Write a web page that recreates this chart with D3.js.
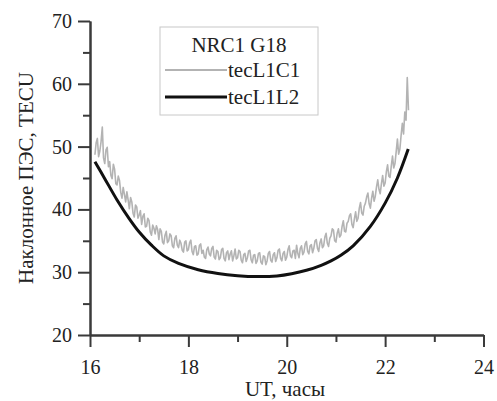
<!DOCTYPE html>
<html>
<head>
<meta charset="utf-8">
<script src="https://cdn.jsdelivr.net/npm/d3@7"></script>
<style>
  body { margin: 0; background: #fff; }
  svg text { font-family: "Liberation Serif", "DejaVu Serif", serif; fill: #222; }
</style>
</head>
<body>
<div id="chart"></div>
<script>
// данные
var seriesNames = ["tecL1C1", "tecL1L2"];
var legendTitle = "NRC1 G18";
var xTicks = [16, 18, 20, 22, 24];
var xMinor = [17, 19, 21, 23];
var yTicks = [20, 30, 40, 50, 60, 70];
var yMinor = [25, 35, 45, 55, 65];

// tecL1C1: отсчёты каждые 0.025 ч начиная с 16.10 UT
var c1Start = 16.10, c1Step = 0.025;
var tecL1C1 = [
  48.7, 50.6, 51.3, 48.4, 49.3, 50.8, 53.1, 48.2, 47.3, 49.5,
  49.9, 46.8, 47.6, 45.4, 44.9, 47.2, 46.4, 44.1, 43.9, 45.3,
  44.6, 42.7, 41.8, 43.5, 42.4, 41.2, 42.8, 41.5, 40.1, 41.9,
  41.2, 39.4, 38.8, 40.7, 40.4, 38.6, 39.1, 39.8, 37.6, 38.9,
  39.3, 37.2, 37.3, 38.6, 38.2, 36.4, 35.9, 37.5, 37.0, 36.1,
  37.4, 36.8, 35.2, 36.9, 36.5, 34.8, 34.5, 35.9, 36.5, 34.7,
  35.0, 36.1, 35.8, 34.2, 33.9, 35.4, 35.8, 34.3, 33.9, 35.1,
  34.6, 33.5, 33.2, 34.8, 35.0, 33.4, 33.6, 34.7, 35.1, 33.3,
  32.8, 34.1, 34.2, 32.7, 32.9, 34.3, 34.5, 33.0, 33.5, 32.4,
  32.2, 33.6, 34.0, 32.9, 32.6, 33.8, 34.1, 32.4, 32.1, 33.5,
  33.3, 32.0, 32.3, 33.6, 33.8, 32.2, 31.8, 33.1, 33.4, 32.0,
  32.9, 33.4, 31.8, 32.6, 33.7, 32.1, 32.3, 33.5, 33.3, 31.9,
  31.5, 32.8, 33.0, 31.7, 32.3, 33.4, 33.5, 32.0, 31.5, 32.7,
  32.8, 31.4, 31.8, 33.0, 33.1, 31.6, 31.3, 32.6, 32.5, 31.2,
  31.8, 33.0, 33.3, 31.9, 31.6, 32.8, 33.1, 31.7, 32.3, 33.5,
  33.7, 32.2, 31.8, 33.0, 33.3, 31.9, 32.4, 33.6, 34.2, 32.6,
  32.3, 33.4, 33.5, 32.2, 34.3, 33.0, 32.3, 33.8, 34.2, 32.8,
  33.2, 34.5, 34.9, 33.3, 32.9, 34.2, 34.4, 33.1, 33.8, 35.0,
  35.2, 33.8, 33.3, 34.7, 35.3, 33.9, 34.2, 35.6, 36.2, 34.6,
  34.1, 35.4, 35.8, 36.9, 36.7, 35.0, 34.8, 36.2, 36.9, 35.6,
  35.9, 37.3, 38.2, 36.5, 36.4, 37.8, 38.1, 39.0, 39.3, 37.6,
  37.1, 38.5, 39.6, 38.1, 38.6, 40.2, 41.1, 39.4, 39.1, 40.5,
  41.0, 42.0, 42.6, 40.9, 40.2, 41.8, 42.9, 41.3, 42.1, 43.6,
  44.7, 43.2, 42.5, 44.1, 45.4, 43.7, 44.2, 46.0, 47.1, 45.3,
  45.1, 46.9, 48.5, 46.6, 47.3, 49.2, 51.2, 48.8, 49.6, 51.8,
  53.7, 52.0, 55.5, 54.2, 61.0, 55.8
];

var l2Times = [16.1, 16.3, 16.55, 16.8, 17.0, 17.25, 17.5, 17.8, 18.2, 18.6, 19.0, 19.4,
               19.8, 20.1, 20.4, 20.7, 20.9, 21.1, 21.35, 21.7, 22.0, 22.25, 22.47];
var tecL1L2 = [47.6, 44.9, 41.5, 38.5, 36.4, 34.3, 32.6, 31.4, 30.4, 29.8, 29.45, 29.3,
               29.4, 29.75, 30.3, 31.1, 31.8, 32.7, 34.2, 37.3, 41.0, 45.0, 49.6];

var w = 497, h = 401;
var margin = {top: 21, right: 13.5, bottom: 66, left: 90};
var width = w - margin.left - margin.right,
    height = h - margin.top - margin.bottom;

var svg = d3.select("#chart").append("svg")
  .attr("width", w)
  .attr("height", h);

var g = svg.append("g")
  .attr("transform", "translate(" + margin.left + "," + margin.top + ")");

var xScale = d3.scaleLinear().domain([16, 24]).range([0, width]);
var yScale = d3.scaleLinear().domain([20, 70]).range([height, 0]);

var axisColor = "#3a3a3a";
var serif = '"Liberation Serif", "DejaVu Serif", serif';

function styleAxis(sel) {
  sel.attr("font-family", null);
  sel.selectAll("path, line").attr("stroke", axisColor).attr("stroke-width", 2);
  sel.selectAll("text").attr("font-size", "20px").attr("fill", "#222")
    .style("font-family", serif);
}

// оси
g.append("g")
  .attr("transform", "translate(0," + height + ")")
  .call(d3.axisBottom(xScale).tickValues(xTicks).tickSize(12).tickSizeOuter(0).tickPadding(13).tickFormat(d3.format("d")))
  .call(styleAxis);
g.append("g")
  .attr("transform", "translate(0," + height + ")")
  .call(d3.axisBottom(xScale).tickValues(xMinor).tickSize(7).tickSizeOuter(0).tickFormat(""))
  .call(styleAxis);

g.append("g")
  .call(d3.axisLeft(yScale).tickValues(yTicks).tickSize(12).tickSizeOuter(0).tickPadding(6).tickFormat(d3.format("d")))
  .call(styleAxis);
g.append("g")
  .call(d3.axisLeft(yScale).tickValues(yMinor).tickSize(7).tickSizeOuter(0).tickFormat(""))
  .call(styleAxis);

// линии
var lineC1 = d3.line()
  .x(function(d, i) { return xScale(c1Start + i * c1Step); })
  .y(function(d) { return yScale(d); });

g.append("path")
  .attr("d", lineC1(tecL1C1))
  .attr("fill", "none")
  .attr("stroke", "#b3b3b3")
  .attr("stroke-width", 1.6)
  .attr("stroke-linejoin", "round");

var lineL2 = d3.line()
  .curve(d3.curveCatmullRom.alpha(0.5))
  .x(function(d, i) { return xScale(l2Times[i]); })
  .y(function(d) { return yScale(d); });

g.append("path")
  .attr("d", lineL2(tecL1L2))
  .attr("fill", "none")
  .attr("stroke", "#111")
  .attr("stroke-width", 3);

// подписи осей
svg.append("text")
  .attr("transform", "translate(33," + 178 + ") rotate(-90)")
  .attr("text-anchor", "middle")
  .attr("font-size", "21px")
  .text("Наклонное ПЭС, TECU");

svg.append("text")
  .attr("x", 285)
  .attr("y", 396)
  .attr("text-anchor", "middle")
  .attr("font-size", "21px")
  .text("UT, часы");

// легенда
var legend = svg.append("g").attr("transform", "translate(160,27)");
legend.append("rect")
  .attr("width", 158).attr("height", 88)
  .attr("fill", "#fff")
  .attr("stroke", "#c8c8c8")
  .attr("stroke-width", 1);
legend.append("text")
  .attr("x", 79).attr("y", 25)
  .attr("text-anchor", "middle")
  .attr("font-size", "21px")
  .text(legendTitle);

var legendColors = ["#b3b3b3", "#111"];
var legendWidths = [2, 3];
seriesNames.forEach(function(name, i) {
  var yy = 43 + i * 27;
  legend.append("line")
    .attr("x1", 5).attr("x2", 67)
    .attr("y1", yy).attr("y2", yy)
    .attr("stroke", legendColors[i])
    .attr("stroke-width", legendWidths[i]);
  legend.append("text")
    .attr("x", 68).attr("y", yy + 7)
    .attr("font-size", "21px")
    .text(name);
});
</script>
</body>
</html>
